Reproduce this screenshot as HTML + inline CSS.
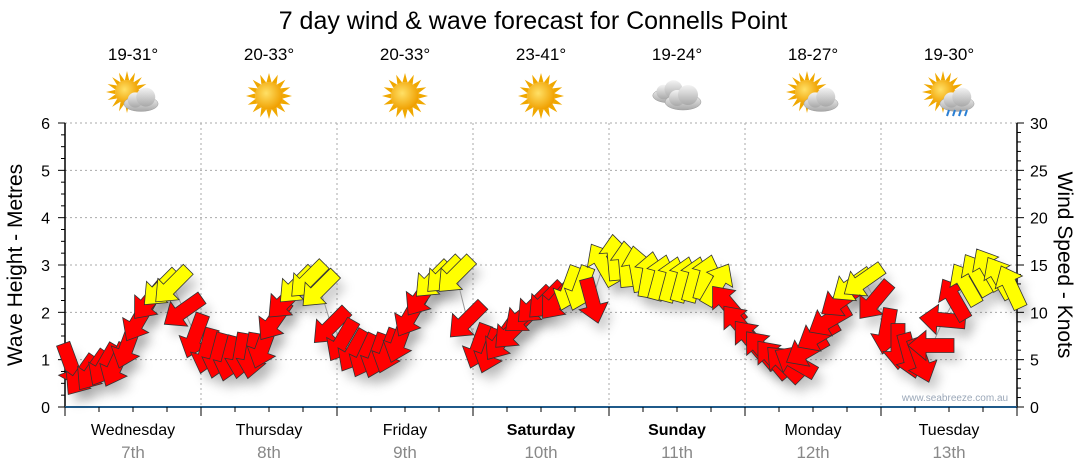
<!DOCTYPE html>
<html><head><meta charset="utf-8"><style>
html,body{margin:0;padding:0;background:#fff;}
svg{display:block;font-family:"Liberation Sans",sans-serif;}
</style></head><body>
<svg id="chart" width="1080" height="475" viewBox="0 0 1080 475">
<defs>
<filter id="sh" x="-50%" y="-50%" width="200%" height="200%"><feGaussianBlur stdDeviation="5"/></filter>
<radialGradient id="sunG" cx="0.4" cy="0.4" r="0.6"><stop offset="0" stop-color="#ffe066"/><stop offset="1" stop-color="#f0a000"/></radialGradient>
<linearGradient id="cloudG" x1="0" y1="0" x2="0" y2="1"><stop offset="0" stop-color="#f4f4f4"/><stop offset="1" stop-color="#a8a8a8"/></linearGradient>
</defs>
<text x="533" y="29" font-size="25" text-anchor="middle" fill="#000">7 day wind &amp; wave forecast for Connells Point</text>
<g id="grid"></g>
<g id="axes"></g>
<g id="top"></g>
<g id="shadows"></g>
<g id="series"></g>
<text x="955" y="401" font-size="10" fill="#9aa7b8" text-anchor="middle">www.seabreeze.com.au</text>
<text transform="translate(22,265) rotate(-90)" font-size="21" text-anchor="middle">Wave Height - Metres</text>
<text transform="translate(1058,265) rotate(90)" font-size="21" text-anchor="middle">Wind Speed - Knots</text>
</svg>
<script>
const days=["Wednesday","Thursday","Friday","Saturday","Sunday","Monday","Tuesday"];
const dates=["7th","8th","9th","10th","11th","12th","13th"];
const boldDays=[false,false,false,true,true,false,false];
const temps=["19-31°","20-33°","20-33°","23-41°","19-24°","18-27°","19-30°"];
const icons=["partcloud","sun","sun","sun","cloud","partcloud","rain"];
const waveTicks=[0,1,2,3,4,5,6];
const windTicks=[0,5,10,15,20,25,30];
// 2-hourly wind speed (knots) and arrow heading (deg, 0=up, clockwise)
const windSpeed=[4.5,3.4,3.9,4.5,4.5,6.5,9.2,11.3,12.6,12.9,10.2,7.6,
 6,5.5,5.2,5.5,5.5,6.5,9.2,11.3,12.9,13.5,12.5,8.6,
 7.1,6,5.5,5.5,6,7.1,9.7,11.8,13.5,14,14,9.2,
 6.5,6,7.1,8.1,9.7,10.8,11.3,11.3,12.6,12.6,11.3,15,
 15.7,15,14.5,13.9,13.6,13.4,13.4,13.4,13.6,12.9,10.8,8.7,
 7.1,6,5,4.5,4.7,6,7.6,9.2,11.3,12.9,13.4,11.3,
 8.1,6.5,5.5,5,6.5,9.2,11.3,12.9,13.9,14.5,13.6,12.6];
const windDir=[160,215,215,210,205,200,210,220,225,225,235,200,
 195,195,195,190,190,200,215,225,225,225,225,225,
 210,210,205,200,200,200,210,215,225,225,225,225,
 200,200,215,225,230,225,225,220,200,200,165,330,
 355,355,350,10,15,15,15,15,15,30,320,320,
 320,320,320,315,300,240,240,240,235,235,235,220,
 190,180,165,160,270,275,330,330,330,330,330,335];

const NS="http://www.w3.org/2000/svg";
const L=65,R=1017,T=123,B=407,dayW=(R-L)/7,perDay=12;
const yW=v=>B-(v/30)*(B-T), yH=v=>B-(v/6)*(B-T);
const xI=i=>L+(i+0.5)*(dayW/perDay);
function mk(tag,attrs,parent){const e=document.createElementNS(NS,tag);for(const k in attrs)e.setAttribute(k,attrs[k]);parent.appendChild(e);return e;}
const grid=document.getElementById('grid'),axes=document.getElementById('axes'),top_=document.getElementById('top');
waveTicks.forEach(v=>{if(v>0){const l=mk('line',{x1:L,x2:R,y1:yH(v),y2:yH(v),stroke:'#aaa','stroke-dasharray':'2,3'},grid);}
 const t=mk('text',{x:50,y:yH(v)+6,'font-size':16,'text-anchor':'end'},axes);t.textContent=v;});
windTicks.forEach(v=>{const t=mk('text',{x:1030,y:yW(v)+6,'font-size':16},axes);t.textContent=v;});
for(let d=1;d<7;d++){const l=mk('line',{x1:L+d*dayW,x2:L+d*dayW,y1:T,y2:B,stroke:'#aaa','stroke-dasharray':'2,3'},grid);}
mk('line',{x1:L,x2:L,y1:T,y2:B,stroke:'#000','stroke-width':1.5},axes);
mk('line',{x1:R,x2:R,y1:T,y2:B,stroke:'#000','stroke-width':1.5},axes);
for(let v=0;v<=24;v++){mk('line',{x1:L-(v%4?4:7),x2:L,y1:yH(v/4),y2:yH(v/4),stroke:'#000'},axes);}
for(let v=0;v<=30;v++){mk('line',{x1:R,x2:R+(v%5?4:7),y1:yW(v),y2:yW(v),stroke:'#000'},axes);}
mk('line',{x1:L,x2:R,y1:B,y2:B,stroke:'#1f5a8a','stroke-width':2},axes);
for(let k=0;k<=28;k++){const x=L+k*dayW/4;mk('line',{x1:x,x2:x,y1:B,y2:B+(k%4?5:9),stroke:'#000'},axes);}
function sun(g,cx,cy,r){for(let a=0;a<360;a+=22.5){const rad=a*Math.PI/180;mk('polygon',{points:`${cx+Math.cos(rad)*(r+9)},${cy+Math.sin(rad)*(r+9)} ${cx+Math.cos(rad+0.18)*r},${cy+Math.sin(rad+0.18)*r} ${cx+Math.cos(rad-0.18)*r},${cy+Math.sin(rad-0.18)*r}`,fill:'#f0a800'},g);}mk('circle',{cx,cy,r,fill:'url(#sunG)'},g);}
function cloud(g,cx,cy,s){mk('ellipse',{cx:cx,cy:cy+4*s,rx:18*s,ry:8*s,fill:'url(#cloudG)',stroke:'#999','stroke-width':0.5},g);mk('circle',{cx:cx-6*s,cy:cy,r:8*s,fill:'url(#cloudG)'},g);mk('circle',{cx:cx+5*s,cy:cy-3*s,r:10*s,fill:'url(#cloudG)'},g);}
days.forEach((d,i)=>{const cx=L+(i+0.5)*dayW;
 const t=mk('text',{x:cx,y:435,'font-size':16,'text-anchor':'middle','font-weight':boldDays[i]?'bold':'normal'},axes);t.textContent=d;
 const t2=mk('text',{x:cx,y:458,'font-size':17,'text-anchor':'middle',fill:'#888'},axes);t2.textContent=dates[i];
 const t3=mk('text',{x:cx,y:60,'font-size':17,'text-anchor':'middle'},top_);t3.textContent=temps[i];
 const g=mk('g',{},top_);
 const ic=icons[i];
 if(ic==='sun')sun(g,cx,96,14);
 else if(ic==='cloud'){cloud(g,cx-8,92,0.9);cloud(g,cx+6,98,1);}
 else{sun(g,cx-6,92,12);cloud(g,cx+8,100,0.95);if(ic==='rain'){for(let k=0;k<4;k++)mk('line',{x1:cx+k*6,y1:110,x2:cx+k*6-2,y2:116,stroke:'#2a7fd4','stroke-width':2},g);}}
});
const series=document.getElementById('series'),shadows=document.getElementById('shadows');
const pts=windSpeed.map((v,i)=>[xI(i),yW(v)]);
const ln=mk('polyline',{points:pts.map(p=>p.join(',')).join(' '),fill:'none',stroke:'#999','stroke-width':1},series);

const arrowPts="0,-24 15,-6 7,-6 7,22 -7,22 -7,-6 -15,-6";
windSpeed.forEach((v,i)=>{const [x,y]=pts[i];
 mk('polygon',{points:arrowPts,transform:`translate(${x+6},${y+10}) rotate(${windDir[i]})`,fill:'#000','fill-opacity':0.18,filter:'url(#sh)'},shadows);
 const a=mk('polygon',{points:arrowPts,transform:`translate(${x},${y}) rotate(${windDir[i]})`,fill:v>=12.5?'#ffff00':'#ff0000',stroke:'#333','stroke-width':0.8},series);
 
 
});
</script>
</body></html>
